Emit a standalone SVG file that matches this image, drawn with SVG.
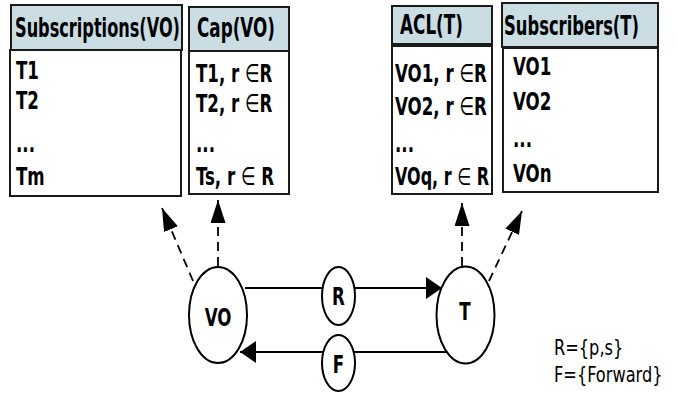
<svg xmlns="http://www.w3.org/2000/svg" width="678" height="393" viewBox="0 0 678 393">
<style>
.hd{fill:#c9dde3;stroke:#1a1a1a;stroke-width:2}
.bd{fill:#fff;stroke:#1a1a1a;stroke-width:2}
text{font-family:"DejaVu Sans Condensed","DejaVu Sans",sans-serif;font-stretch:condensed;fill:#000}
.h{font-size:18px;font-weight:bold}
.b{font-size:18.5px;font-weight:bold}
.el{font-weight:normal}
.lg{font-size:18px;font-weight:normal}
.nd{fill:#fff;stroke:#000;stroke-width:2}
.sl{stroke:#000;stroke-width:2;fill:none}
.dl{stroke:#000;stroke-width:1.8;fill:none;stroke-dasharray:9 6}
</style>
<defs>
<marker id="ah" viewBox="0 0 16 22" refX="16" refY="11" markerWidth="16" markerHeight="22" markerUnits="userSpaceOnUse" orient="auto"><path d="M0,0 L16,11 L0,22 z" fill="#000"/></marker>
<marker id="dh" viewBox="0 0 23 15" refX="23" refY="7.5" markerWidth="23" markerHeight="15" markerUnits="userSpaceOnUse" orient="auto"><path d="M0,0 L23,7.5 L0,15 z" fill="#000"/></marker>
</defs>

<g id="subscriptions">
<rect class="bd" x="10" y="50" width="171" height="146"/>
<rect class="hd" x="11" y="5" width="171" height="45"/>
<text class="h" transform="translate(15,37) scale(1,1.45)" textLength="165" lengthAdjust="spacingAndGlyphs">Subscriptions(VO)</text>
<text class="b" transform="translate(16,79) scale(1,1.35)">T1</text>
<text class="b" transform="translate(16,109) scale(1,1.35)">T2</text>
<text class="b" transform="translate(16,152) scale(1,1.35)">...</text>
<text class="b" transform="translate(16,185) scale(1,1.35)">Tm</text>
</g>

<g id="cap">
<rect class="bd" x="189" y="51" width="100" height="143"/>
<rect class="hd" x="189" y="7" width="100" height="44"/>
<text class="h" transform="translate(197,37) scale(1,1.45)" textLength="78" lengthAdjust="spacingAndGlyphs">Cap(VO)</text>
<text class="b" transform="translate(196,82) scale(1,1.35)">T1, r <tspan class="el">∈</tspan>R</text>
<text class="b" transform="translate(196,112) scale(1,1.35)">T2, r <tspan class="el">∈</tspan>R</text>
<text class="b" transform="translate(196,152) scale(1,1.35)">...</text>
<text class="b" transform="translate(196,185) scale(1,1.35)">Ts, r <tspan class="el">∈</tspan> R</text>
</g>

<g id="acl">
<rect class="bd" x="392" y="46" width="100" height="148"/>
<rect class="hd" x="392" y="6" width="100" height="38"/>
<text class="h" transform="translate(400,34) scale(1,1.45)" textLength="63" lengthAdjust="spacingAndGlyphs">ACL(T)</text>
<text class="b" transform="translate(395,82) scale(1,1.35)">VO1, r <tspan class="el">∈</tspan>R</text>
<text class="b" transform="translate(395,115) scale(1,1.35)">VO2, r <tspan class="el">∈</tspan>R</text>
<text class="b" transform="translate(395,152) scale(1,1.35)">...</text>
<text class="b" transform="translate(395,185) scale(1.0,1.35)" style="font-size:17.8px">VOq, r <tspan class="el">∈</tspan> R</text>
</g>

<g id="subscribers">
<rect class="bd" x="503" y="48" width="155" height="144"/>
<rect class="hd" x="502" y="3" width="156" height="44"/>
<text class="h" transform="translate(504,35) scale(1,1.45)" textLength="135" lengthAdjust="spacingAndGlyphs">Subscribers(T)</text>
<text class="b" transform="translate(513,75) scale(1,1.35)">VO1</text>
<text class="b" transform="translate(513,110) scale(1,1.35)">VO2</text>
<text class="b" transform="translate(513,147) scale(1,1.35)">...</text>
<text class="b" transform="translate(513,182) scale(1,1.35)">VOn</text>
</g>

<g id="connectors">
<line class="dl" x1="218" y1="266" x2="218" y2="200" marker-end="url(#dh)"/>
<line class="dl" x1="193" y1="281" x2="162" y2="208" marker-end="url(#dh)"/>
<line class="dl" x1="462" y1="266" x2="462" y2="203" marker-end="url(#dh)"/>
<line class="dl" x1="489" y1="281" x2="522" y2="211" marker-end="url(#dh)"/>
<line class="sl" x1="245" y1="288" x2="442" y2="288" marker-end="url(#ah)"/>
<line class="sl" x1="447" y1="352" x2="240" y2="352" marker-end="url(#ah)"/>
</g>

<g id="VO">
<ellipse class="nd" cx="218" cy="315" rx="29" ry="48"/>
<text class="b" text-anchor="middle" transform="translate(218,326) scale(1,1.35)">VO</text>
</g>
<g id="T">
<ellipse class="nd" cx="465.5" cy="315" rx="29" ry="48.5"/>
<text class="b" text-anchor="middle" transform="translate(465,320) scale(1,1.35)">T</text>
</g>
<g id="R">
<ellipse class="nd" cx="338.5" cy="296" rx="16.5" ry="29"/>
<text class="b" text-anchor="middle" transform="translate(338.5,305) scale(1,1.35)">R</text>
</g>
<g id="F">
<ellipse class="nd" cx="338.5" cy="363" rx="16.5" ry="28"/>
<text class="b" text-anchor="middle" transform="translate(338.5,373) scale(1,1.35)">F</text>
</g>

<g id="legend">
<text class="lg" transform="translate(554,355) scale(1,1.2)">R={p,s}</text>
<text class="lg" transform="translate(554,382) scale(1,1.2)">F={Forward}</text>
</g>
</svg>
